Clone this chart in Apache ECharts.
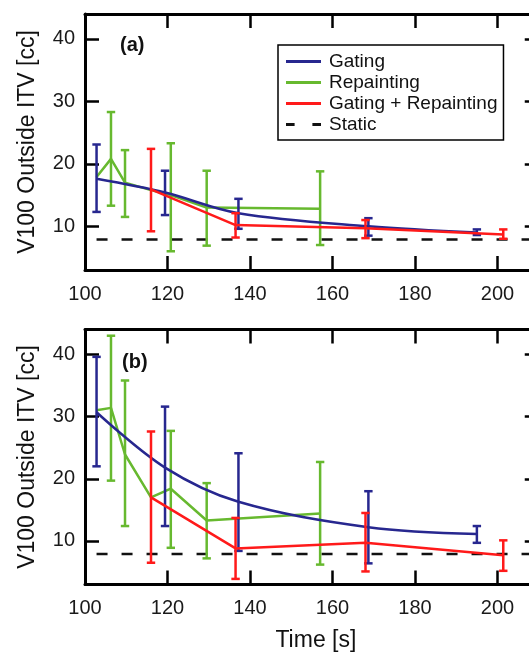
<!DOCTYPE html>
<html>
<head>
<meta charset="utf-8">
<script src="https://cdn.jsdelivr.net/npm/echarts@6/dist/echarts.min.js"></script>
<style>
  html, body { margin: 0; padding: 0; background: #fff; }
  #chart { width: 529px; height: 654px; }
</style>
</head>
<body>
<div id="chart"></div>
<script>
// Gating: time [s], mean V100 and error-bar limits for panels (a) and (b)
const gatingTime  = [102.8, 119.4, 137.2, 168.7, 195.0];
const gatingMeanA = [17.6, 15.4, 12.1, 10.0, 9.0];
const gatingLowA  = [12.3, 11.8, 9.6, 8.5, 8.6];
const gatingHighA = [23.1, 18.9, 14.4, 11.3, 9.5];
const gatingMeanB = [30.7, 21.8, 16.3, 12.2, 11.1];
const gatingLowB  = [22.0, 12.4, 8.4, 6.4, 9.7];
const gatingHighB = [39.6, 31.6, 24.1, 18.0, 12.4];

// Repainting
const repaintTime  = [102.8, 106.3, 109.7, 116.0, 120.8, 129.5, 157.0];
const repaintMeanA = [17.9, 20.8, 17.0, 15.8, 15.0, 13.0, 12.8];
const repaintLowA  = [null, 13.3, 11.5, null, 6.0, 6.9, 7.0];
const repaintHighA = [null, 28.3, 22.2, null, 23.3, 18.9, 18.8];
const repaintMeanB = [31.0, 31.4, 23.9, 17.0, 18.4, 13.3, 14.4];
const repaintLowB  = [null, 19.7, 12.4, null, 8.9, 7.2, 6.2];
const repaintHighB = [null, 43.0, 35.8, null, 27.7, 19.3, 22.7];

// Gating + Repainting
const combinedTime  = [116.0, 136.5, 168.0, 201.4];
const combinedMeanA = [15.9, 10.2, 9.7, 8.7];
const combinedLowA  = [9.2, 8.2, 8.1, 8.0];
const combinedHighA = [22.4, 12.1, 11.0, 9.5];
const combinedMeanB = [17.0, 8.8, 9.7, 7.7];
const combinedLowB  = [6.5, 3.9, 5.1, 5.2];
const combinedHighB = [27.6, 13.7, 14.5, 10.1];

// Static reference level
const staticLevel = 7.9;
const staticTime  = [102.8, 210];

const xTickLabels = ['100', '120', '140', '160', '180', '200'];
const yTickLabels = ['10', '20', '30', '40'];
const panelLabels = ['(a)', '(b)'];
const legendNames = ['Gating', 'Repainting', 'Gating + Repainting', 'Static'];

const COLORS = { gating: '#27278F', repaint: '#67B92F', combined: '#FF1A1A', stat: '#111111' };
const FONT = "'Liberation Sans', Arial, sans-serif";

const chart = echarts.init(document.getElementById('chart'), null, { renderer: 'canvas' });

// the right-hand frame sits just past the page edge
const grids = [
  { left: 85, width: 453.75, top: 14, height: 256, outerBoundsMode: 'none', containLabel: false },
  { left: 85, width: 453.75, top: 329.5, height: 255, outerBoundsMode: 'none', containLabel: false }
];

function xAxes(gridIndex) {
  const common = {
    type: 'value', gridIndex, min: 100, max: 210, interval: 20,
    axisLine: { show: true, onZero: false, lineStyle: { color: '#000', width: 3 } },
    axisTick: { show: true, inside: true, length: 14, lineStyle: { color: '#000', width: 2.5 } },
    splitLine: { show: false }
  };
  return [
    Object.assign({}, common, {
      position: 'bottom',
      axisLabel: {
        show: true, margin: 14, fontSize: 20, fontFamily: FONT, color: '#1a1a1a',
        showMaxLabel: false,
        formatter: v => (xTickLabels.includes(String(v)) ? String(v) : '')
      },
      name: gridIndex === 1 ? 'Time [s]' : '',
      nameLocation: 'middle', nameGap: 45,
      nameTextStyle: { fontSize: 23, fontFamily: FONT, color: '#111', padding: [0, 0, 0, 8] }
    }),
    Object.assign({}, common, { position: 'top', axisLabel: { show: false } })
  ];
}

function yAxes(gridIndex) {
  const common = {
    type: 'value', gridIndex, min: 3, max: 44, splitNumber: 4,
    axisLine: { show: true, onZero: false, lineStyle: { color: '#000', width: 3 } },
    axisTick: { show: true, inside: true, length: 14, lineStyle: { color: '#000', width: 2.5 } },
    splitLine: { show: false }
  };
  return [
    Object.assign({}, common, {
      position: 'left',
      axisLabel: {
        show: true, margin: 10, fontSize: 20, fontFamily: FONT, color: '#1a1a1a',
        showMinLabel: false, showMaxLabel: false,
        formatter: v => (yTickLabels.includes(String(v)) ? String(v) : '')
      },
      name: 'V100 Outside ITV [cc]',
      nameLocation: 'middle', nameGap: 46,
      nameTextStyle: { fontSize: 23, fontFamily: FONT, color: '#111' }
    }),
    Object.assign({}, common, { position: 'right', axisLabel: { show: false } })
  ];
}

function lineSeries(name, times, means, color, gridIndex, z, smooth) {
  return {
    type: 'line', name, xAxisIndex: gridIndex * 2, yAxisIndex: gridIndex * 2,
    data: times.map((t, i) => [t, means[i]]),
    symbol: 'none', smooth: smooth || false, z,
    lineStyle: { color, width: 2.5 },
    itemStyle: { color },
    emphasis: { disabled: true },
    animation: false
  };
}

function errorSeries(name, times, lows, highs, color, gridIndex, z) {
  const data = [];
  times.forEach((t, i) => {
    if (lows[i] != null && highs[i] != null) data.push([t, lows[i], highs[i]]);
  });
  return {
    type: 'custom', name, xAxisIndex: gridIndex * 2, yAxisIndex: gridIndex * 2, z,
    data, animation: false,
    encode: { x: 0, y: [1, 2] },
    renderItem(params, api) {
      const x = api.value(0);
      const top = api.coord([x, api.value(2)]);
      const bot = api.coord([x, api.value(1)]);
      const half = 4.2;
      const style = { stroke: color, lineWidth: 2.5, fill: null };
      return {
        type: 'group',
        children: [
          { type: 'line', shape: { x1: top[0], y1: top[1], x2: bot[0], y2: bot[1] }, style },
          { type: 'line', shape: { x1: top[0] - half, y1: top[1], x2: top[0] + half, y2: top[1] }, style },
          { type: 'line', shape: { x1: bot[0] - half, y1: bot[1], x2: bot[0] + half, y2: bot[1] }, style }
        ]
      };
    }
  };
}

function staticSeries(gridIndex) {
  return {
    type: 'line', name: 'Static', xAxisIndex: gridIndex * 2, yAxisIndex: gridIndex * 2,
    data: staticTime.map(t => [t, staticLevel]),
    symbol: 'none', z: 1, animation: false,
    lineStyle: { color: COLORS.stat, width: 2.5, type: [11, 14] },
    itemStyle: { color: COLORS.stat },
    emphasis: { disabled: true }
  };
}

function panelSeries(g) {
  const A = g === 0;
  return [
    staticSeries(g),
    lineSeries('Repainting', repaintTime, A ? repaintMeanA : repaintMeanB, COLORS.repaint, g, 2),
    errorSeries('Repainting bars', repaintTime, A ? repaintLowA : repaintLowB, A ? repaintHighA : repaintHighB, COLORS.repaint, g, 2),
    lineSeries('Gating', gatingTime, A ? gatingMeanA : gatingMeanB, COLORS.gating, g, 3, 0.35),
    errorSeries('Gating bars', gatingTime, A ? gatingLowA : gatingLowB, A ? gatingHighA : gatingHighB, COLORS.gating, g, 3),
    lineSeries('Gating + Repainting', combinedTime, A ? combinedMeanA : combinedMeanB, COLORS.combined, g, 4),
    errorSeries('Gating + Repainting bars', combinedTime, A ? combinedLowA : combinedLowB, A ? combinedHighA : combinedHighB, COLORS.combined, g, 4)
  ];
}

// legend keys: a solid bar for the lines, two short dashes for the static level
const DASH_ICON = 'path://M0,0h8.6v3h-8.6z M26.4,0h8.6v3h-8.6z';

const option = {
  backgroundColor: '#fff',
  animation: false,
  grid: grids,
  xAxis: [...xAxes(0), ...xAxes(1)],
  yAxis: [...yAxes(0), ...yAxes(1)],
  legend: {
    orient: 'vertical', left: 278, top: 45,
    padding: [6, 6, 5, 8],
    borderColor: '#000', borderWidth: 1.5,
    itemWidth: 35, itemHeight: 3, itemGap: 0,
    selectedMode: false,
    textStyle: { fontSize: 19, fontFamily: FONT, color: '#111', lineHeight: 21, padding: [0, 0, 0, 3] },
    data: legendNames.map(n => ({ name: n, icon: n === 'Static' ? DASH_ICON : 'rect' }))
  },
  graphic: panelLabels.map((txt, i) => ({
    type: 'text', x: i === 0 ? 120 : 122, y: i === 0 ? 45 : 362, z: 10,
    style: { text: txt, font: `bold 20px ${FONT}`, fill: '#111', verticalAlign: 'middle' }
  })),
  series: [...panelSeries(0), ...panelSeries(1)]
};

chart.setOption(option);
</script>
</body>
</html>
